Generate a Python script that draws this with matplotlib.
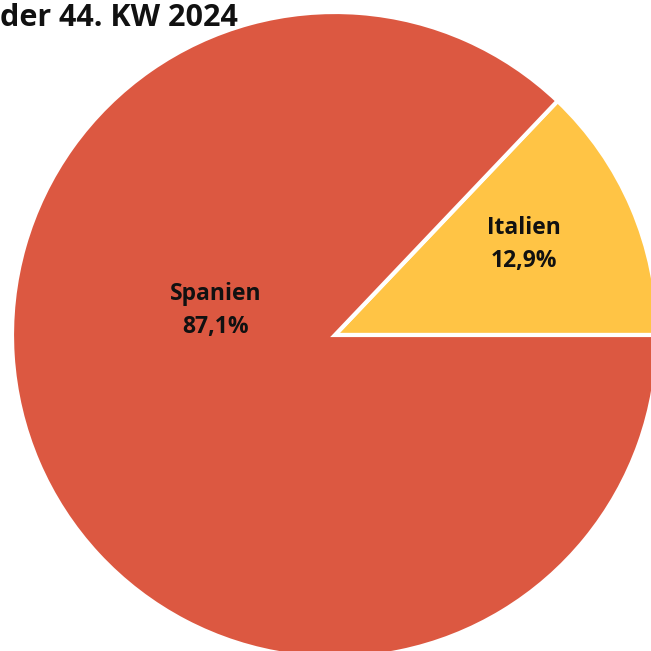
import matplotlib.pyplot as plt

# share by country, week 44 2024
labels = ["Italien", "Spanien"]
shares = [12.9, 87.1]
colors = ["#FFC445", "#DC5841"]
pct_text = ["12,9%", "87,1%"]

plt.rcParams['font.family'] = ['Open Sans', 'DejaVu Sans']

fig = plt.figure(figsize=(6.51, 6.51), dpi=100)
ax = fig.add_axes([0, 0, 1, 1])

wedges, _ = ax.pie(shares, colors=colors, startangle=0, counterclock=True,
                   center=(335, 651 - 335), radius=323,
                   wedgeprops=dict(edgecolor='white', linewidth=3))

# pie() resets the limits, so set them afterwards
ax.set_xlim(0, 651)
ax.set_ylim(0, 651)
ax.set_aspect('equal')
ax.axis('off')

# label positions (pixel coords, y from top)
label_pos = [(524, 228, 261), (216, 294, 327)]
for lab, pct, (x, y1, y2) in zip(labels, pct_text, label_pos):
    ax.text(x, 651 - y1, lab, ha='center', va='center', fontsize=16.5,
            fontweight='bold', color='#111111')
    ax.text(x, 651 - y2, pct, ha='center', va='center', fontsize=16.5,
            fontweight='bold', color='#111111')

fig.text(0.0, 1 - 18 / 651, "der 44. KW 2024", ha='left', va='center',
         fontsize=22, fontweight='bold', color='#111111')

fig.savefig("out.png", dpi=100)
